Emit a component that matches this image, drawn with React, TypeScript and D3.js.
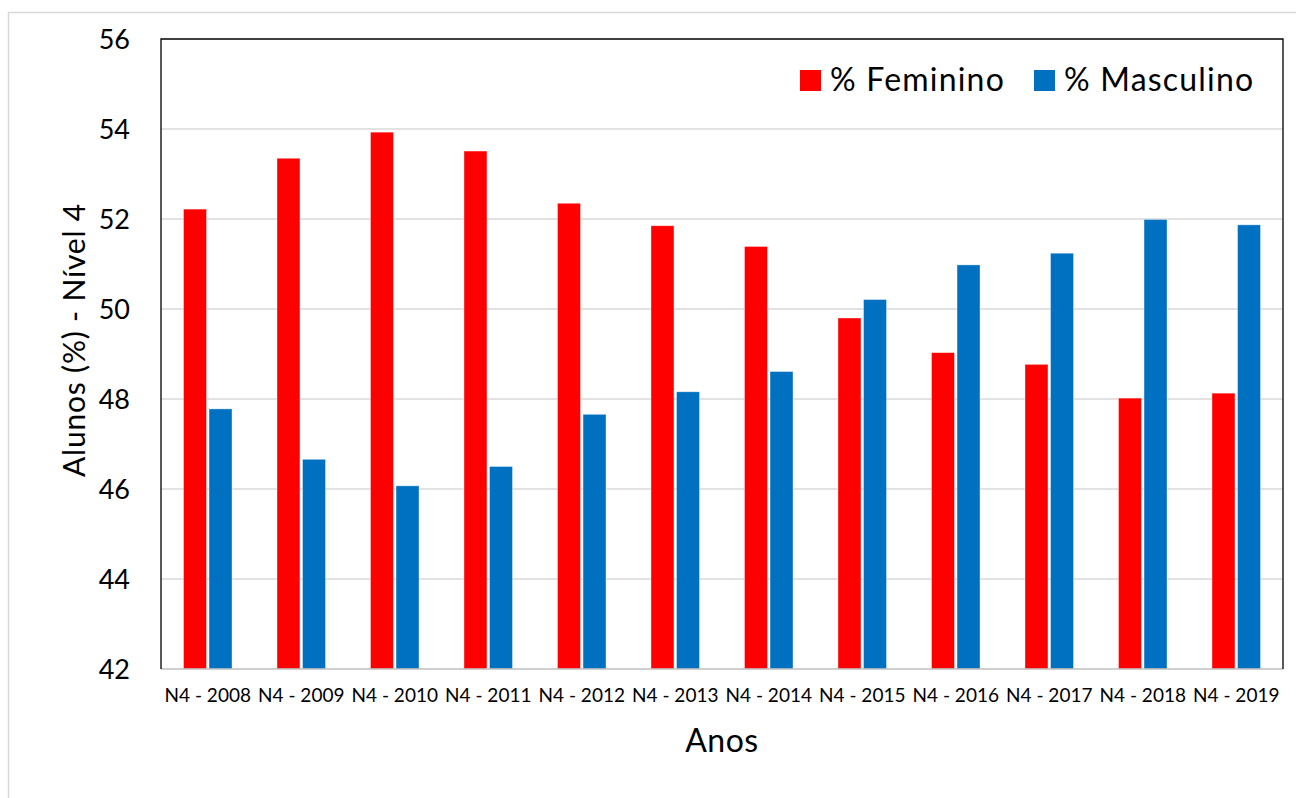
import React from "react";
import * as d3 from "d3";

const categories = ["N4 - 2008","N4 - 2009","N4 - 2010","N4 - 2011","N4 - 2012","N4 - 2013","N4 - 2014","N4 - 2015","N4 - 2016","N4 - 2017","N4 - 2018","N4 - 2019"];
const feminino = [52.22, 53.35, 53.93, 53.51, 52.35, 51.85, 51.39, 49.8, 49.03, 48.77, 48.02, 48.13];
const masculino = [47.78, 46.66, 46.07, 46.5, 47.66, 48.16, 48.61, 50.21, 50.98, 51.24, 51.99, 51.87];
const yTicks = [42, 44, 46, 48, 50, 52, 54, 56];
const seriesNames = ["% Feminino", "% Masculino"];
const seriesColors = ["#FF0000", "#0070C0"];

const FONT = "Lato, 'Open Sans', sans-serif";

export default function App() {
  const left = 161, right = 1283, top = 39, bottom = 669;
  const x = d3.scaleBand<string>().domain(categories).range([left, right]).padding(0);
  const inner = d3.scaleBand<string>().domain(seriesNames).range([22.5, x.bandwidth() - 22.5]).paddingInner(0.1);
  const y = d3.scaleLinear().domain([42, 56]).range([bottom, top]);
  const series = [feminino, masculino];

  return (
    <svg width={1296} height={798} style={{ position: "absolute", left: 0, top: 0, background: "#fff" }} fontFamily={FONT}>
      <rect x={0} y={0} width={1296} height={798} fill="#fff" />
      <rect x={8.5} y={12.5} width={1400} height={900} fill="none" stroke="#d9d9d9" strokeWidth={1.5} />
      {yTicks.filter(t => t !== 42 && t !== 56).map(t => (
        <line key={t} x1={left} x2={right} y1={y(t)} y2={y(t)} stroke="#d9d9d9" strokeWidth={1.5} />
      ))}
      {series.map((vals, si) =>
        vals.map((v, i) => (
          <rect key={si + "-" + i}
            x={(x(categories[i]) as number) + (inner(seriesNames[si]) as number)}
            y={y(v)}
            width={inner.bandwidth()}
            height={y(42) - y(v)}
            fill={seriesColors[si]}
            stroke="#ffffff" strokeOpacity={0.5} strokeWidth={0.75} />
        ))
      )}
      <line x1={left} x2={right} y1={bottom} y2={bottom} stroke="#bfbfbf" strokeWidth={1.5} />
      <path d={`M${left},${bottom} V${top} H${right} V${bottom}`} fill="none" stroke="#000" strokeWidth={1.3} />
      {yTicks.map(t => (
        <text key={t} x={130} y={y(t)} dy="0.36em" textAnchor="end" fontSize={27} fill="#000">{t}</text>
      ))}
      {categories.map(c => (
        <text key={c} x={(x(c) as number) + x.bandwidth() / 2} y={702} textAnchor="middle" fontSize={19} fill="#000">{c}</text>
      ))}
      <text x={(left + right) / 2} y={752} textAnchor="middle" fontSize={32} letterSpacing={0.5} fill="#000">Anos</text>
      <text transform={`translate(85,${(top + bottom) / 2 - 14}) rotate(-90)`} textAnchor="middle" fontSize={30} letterSpacing={0.8} fill="#000">Alunos (%) - Nível 4</text>
      <g>
        <rect x={800} y={70} width={21} height={21} fill={seriesColors[0]} />
        <text x={830} y={91} fontSize={32} letterSpacing={1.2} fill="#000">{seriesNames[0]}</text>
        <rect x={1034} y={70} width={21} height={21} fill={seriesColors[1]} />
        <text x={1064} y={91} fontSize={32} letterSpacing={1.2} fill="#000">{seriesNames[1]}</text>
      </g>
    </svg>
  );
}
